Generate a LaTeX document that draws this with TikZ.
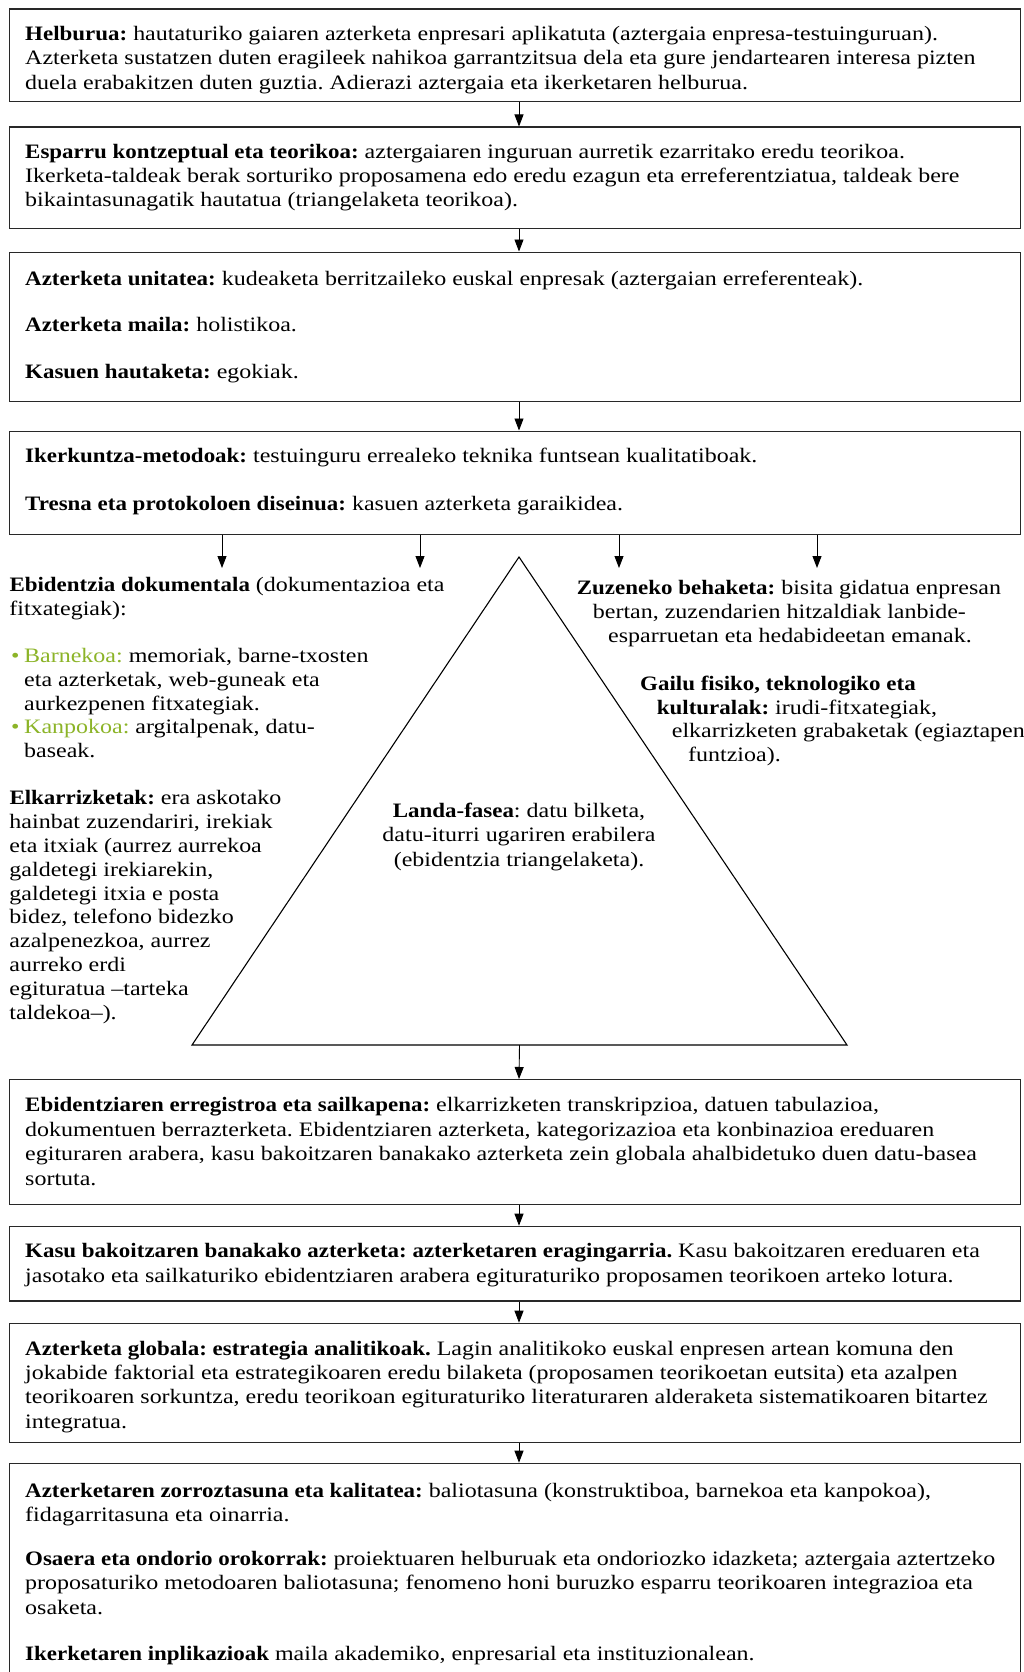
\documentclass[tikz,border=0pt]{standalone}
\usepackage{fontspec}
\setmainfont{Liberation Serif}[FakeStretch=1.17, BoldFeatures={FakeStretch=1.12}]
\usetikzlibrary{arrows.meta,calc}
\definecolor{leaf}{RGB}{140,180,40}
\definecolor{frame}{RGB}{40,40,40}
\newcommand{\bodyfont}{\fontsize{20.5}{24.4}\selectfont\frenchspacing}
\newcommand{\sidefont}{\fontsize{20.5}{23.8}\selectfont\frenchspacing}
\begin{document}
\begin{tikzpicture}[x=1pt,y=-1pt,
  stagebox/.style={draw=frame, line width=1.3pt, rectangle, inner sep=0pt, anchor=north west, minimum width=1011pt},
  body/.style={anchor=base west, inner sep=0pt, align=left, font=\bodyfont},
  side/.style={anchor=base west, inner sep=0pt, align=left, font=\sidefont},
  midtext/.style={anchor=base, inner sep=0pt, align=center, font=\bodyfont},
  flow/.style={line width=0.9pt, -{Triangle[length=12pt,width=9pt]}},
  hill/.style={draw=black, line width=1.1pt, line join=miter}]
\useasboundingbox (0,0) rectangle (1024,1672);
\fill[white] (0,0) rectangle (1024,1672);
\clip (0,0) rectangle (1024,1672);

% vertical axis of the flow
\coordinate (axis) at (519,0);

% stage boxes
\node[stagebox, minimum height=92.5pt]  (b1) at (9,8.5)    {};
\node[stagebox, minimum height=101pt]   (b2) at (9,126.5)  {};
\node[stagebox, minimum height=149.5pt] (b3) at (9,251.5)  {};
\node[stagebox, minimum height=103pt]   (b4) at (9,430.5)  {};
\node[stagebox, minimum height=125pt]   (b5) at (9,1079)   {};
\node[stagebox, minimum height=74.5pt]  (b6) at (9,1225.7) {};
\node[stagebox, minimum height=119pt]   (b7) at (9,1322.7) {};
\node[stagebox, minimum height=230pt]   (b8) at (9,1462.7) {};

% field-phase triangle
\coordinate (apex) at (519,557);
\coordinate (bl) at (192,1045);
\coordinate (br) at (847,1045);
\coordinate (basemid) at ($(bl)!0.5!(br)$);
\draw[hill] (apex) -- (bl) -- (br) -- cycle;

% arrow targets under box 4
\coordinate (t1) at (222,568);
\coordinate (t2) at (420,568);
\coordinate (t3) at (619,568);
\coordinate (t4) at (817,568);

% connectors
\draw[flow] (b1.south -| axis) -- (b2.north -| axis);
\draw[flow] (b2.south -| axis) -- (b3.north -| axis);
\draw[flow] (b3.south -| axis) -- (b4.north -| axis);
\draw[flow] (b4.south -| t1) -- (t1);
\draw[flow] (b4.south -| t2) -- (t2);
\draw[flow] (b4.south -| t3) -- (t3);
\draw[flow] (b4.south -| t4) -- (t4);
\draw[flow] (basemid) -- (b5.north -| axis);
\draw[flow] (b5.south -| axis) -- (b6.north -| axis);
\draw[flow] (b6.south -| axis) -- (b7.north -| axis);
\draw[flow] (b7.south -| axis) -- (b8.north -| axis);

% box texts (multi-line nodes sit on the baseline of their last line)
\node[body] (t-b1) at (25,89.2) {\textbf{Helburua:} hautaturiko gaiaren azterketa enpresari aplikatuta (aztergaia enpresa-testuinguruan).\\
Azterketa sustatzen duten eragileek nahikoa garrantzitsua dela eta gure jendartearen interesa pizten\\
duela erabakitzen duten guztia. Adierazi aztergaia eta ikerketaren helburua.};

\node[body] (t-b2) at (25,207) {\textbf{Esparru kontzeptual eta teorikoa:} aztergaiaren inguruan aurretik ezarritako eredu teorikoa.\\
Ikerketa-taldeak berak sorturiko proposamena edo eredu ezagun eta erreferentziatua, taldeak bere\\
bikaintasunagatik hautatua (triangelaketa teorikoa).};

\node[body] (t-b3a) at (25,285.7) {\textbf{Azterketa unitatea:} kudeaketa berritzaileko euskal enpresak (aztergaian erreferenteak).};
\node[body] (t-b3b) at (25,331.7) {\textbf{Azterketa maila:} holistikoa.};
\node[body] (t-b3c) at (25,378) {\textbf{Kasuen hautaketa:} egokiak.};

\node[body] (t-b4a) at (25,462.7) {\textbf{Ikerkuntza-metodoak:} testuinguru errealeko teknika funtsean kualitatiboak.};
\node[body] (t-b4b) at (25,510) {\textbf{Tresna eta protokoloen diseinua:} kasuen azterketa garaikidea.};

% left column
\node[side] (docs) at (9.3,615) {\textbf{Ebidentzia dokumentala} (dokumentazioa eta\\fitxategiak):};
\node[side] (bul1) at (11,662.7) {\textcolor{leaf}{•}};
\node[side] (inner) at (24,710) {\textcolor{leaf}{Barnekoa:} memoriak, barne-txosten\\eta azterketak, web-guneak eta\\aurkezpenen fitxategiak.};
\node[side] (bul2) at (11,733.5) {\textcolor{leaf}{•}};
\node[side] (outer) at (24,757) {\textcolor{leaf}{Kanpokoa:} argitalpenak, datu-\\baseak.};
\node[side] (talks) at (9.3,1019) {\textbf{Elkarrizketak:} era askotako\\hainbat zuzendariri, irekiak\\eta itxiak (aurrez aurrekoa\\galdetegi irekiarekin,\\galdetegi itxia e posta\\bidez, telefono bidezko\\azalpenezkoa, aurrez\\aurreko erdi\\egituratua –tarteka\\taldekoa–).};

% triangle centre
\node[midtext] (field) at (519,866) {\textbf{Landa-fasea}: datu bilketa,\\datu-iturri ugariren erabilera\\(ebidentzia triangelaketa).};

% right column, indented along the triangle side
\node[side] (watch) at (576.7,642) {\textbf{Zuzeneko behaketa:} bisita gidatua enpresan\\\hspace*{16pt}bertan, zuzendarien hitzaldiak lanbide-\\\hspace*{31.3pt}esparruetan eta hedabideetan emanak.};
\node[side] (devices) at (640,761.7) {\textbf{Gailu fisiko, teknologiko eta}\\\hspace*{16.7pt}\textbf{kulturalak:} irudi-fitxategiak,\\\hspace*{31.7pt}elkarrizketen grabaketak (egiaztapen\\\hspace*{48pt}funtzioa).};

\node[body] (t-b5) at (25,1185) {\textbf{Ebidentziaren erregistroa eta sailkapena:} elkarrizketen transkripzioa, datuen tabulazioa,\\
dokumentuen berrazterketa. Ebidentziaren azterketa, kategorizazioa eta konbinazioa ereduaren\\
egituraren arabera, kasu bakoitzaren banakako azterketa zein globala ahalbidetuko duen datu-basea\\
sortuta.};

\node[body] (t-b6) at (25,1282) {\textbf{Kasu bakoitzaren banakako azterketa: azterketaren eragingarria.} Kasu bakoitzaren ereduaren eta\\
jasotako eta sailkaturiko ebidentziaren arabera egituraturiko proposamen teorikoen arteko lotura.};

\node[body] (t-b7) at (25,1428.3) {\textbf{Azterketa globala: estrategia analitikoak.} Lagin analitikoko euskal enpresen artean komuna den\\
jokabide faktorial eta estrategikoaren eredu bilaketa (proposamen teorikoetan eutsita) eta azalpen\\
teorikoaren sorkuntza, eredu teorikoan egituraturiko literaturaren alderaketa sistematikoaren bitartez\\
integratua.};

\node[body] (t-b8a) at (25,1521.7) {\textbf{Azterketaren zorroztasuna eta kalitatea:} baliotasuna (konstruktiboa, barnekoa eta kanpokoa),\\
fidagarritasuna eta oinarria.};
\node[body] (t-b8b) at (25,1614) {\textbf{Osaera eta ondorio orokorrak:} proiektuaren helburuak eta ondoriozko idazketa; aztergaia aztertzeko\\
proposaturiko metodoaren baliotasuna; fenomeno honi buruzko esparru teorikoaren integrazioa eta\\
osaketa.};
\node[body] (t-b8c) at (25,1660) {\textbf{Ikerketaren inplikazioak} maila akademiko, enpresarial eta instituzionalean.};
\end{tikzpicture}
\end{document}
